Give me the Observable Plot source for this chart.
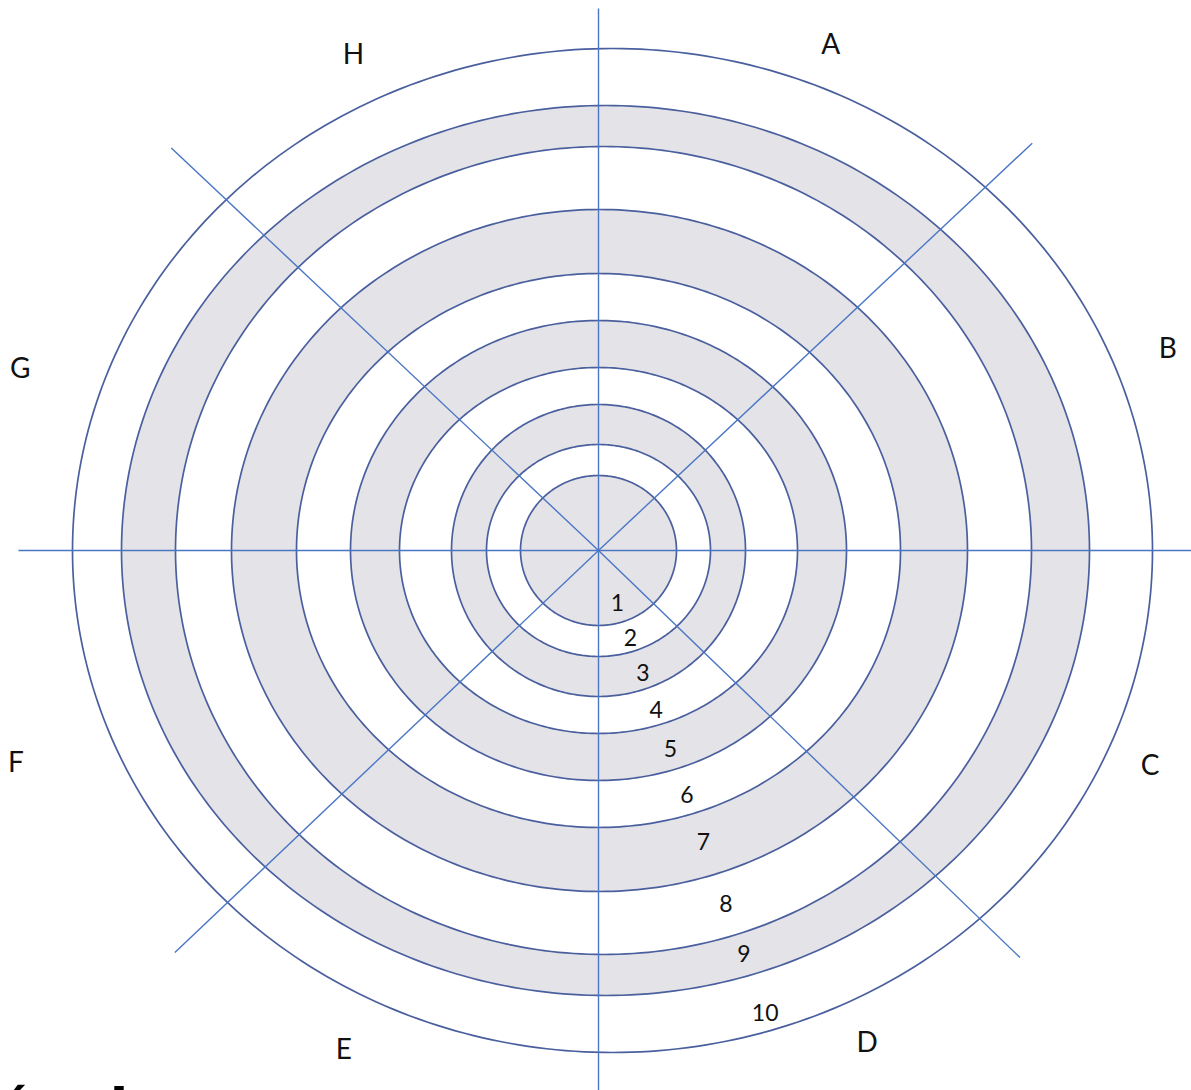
<!DOCTYPE html>
<html>
<head>
<meta charset="utf-8">
<script src="https://cdn.jsdelivr.net/npm/d3@7"></script>
<script src="https://cdn.jsdelivr.net/npm/@observablehq/plot@0.6"></script>
<style>
  html, body { margin: 0; padding: 0; background: #ffffff; overflow: hidden; }
  #wrap { position: relative; width: 1191px; height: 1090px; overflow: hidden; }
  #cut { position: absolute; left: -5px; top: 1079px; font-family: "DejaVu Sans", sans-serif; font-weight: bold; font-size: 54px; color: #000; white-space: nowrap; line-height: 60px; letter-spacing: 2px; }
</style>
</head>
<body>
<div id="wrap">
  <div id="chart"></div>
  <div id="cut">óvai</div>
</div>
<script>
// Ring numbers (1 = innermost disc)
const rings = [1, 2, 3, 4, 5, 6, 7, 8, 9, 10];
// Horizontal and vertical semi-axes of each ring's outer boundary
const ringRx = [78, 112, 147, 199, 248, 302, 368, 428, 484, 540];
const ringRy = [75, 106, 146, 183, 230, 277, 341, 404, 445, 502];
// Slight horizontal drift of each ellipse centre
const ringShift = [0, 0, 0, 0, 0, 0, 1, 5, 7, 14];
// Shaded (true) or blank (false) rings
const ringShaded = [true, false, true, false, true, false, true, false, true, false];

// Ring number labels: distance along a ray from the centre
const numberAngle = -70.2;
const numberDist = [56, 94, 131, 170, 212, 261, 310, 376, 429, 492];

// Spokes: angle (degrees) and length
const spokeAngle = [90, 43.2, 0, -44, -90, -136.5, 180, 136.7];
const spokeLength = [542, 595, 593, 586, 545, 584, 580, 587];

// Sector letters: angle (degrees) and distance from the centre
const sectors = ["A", "B", "C", "D", "E", "F", "G", "H"];
const sectorAngle = [65.3, 19.5, -21.3, -61.4, -117, -160, 162.6, 116.3];
const sectorDist = [556, 604, 592, 561, 561, 620, 606, 553];

const GREY = "#e4e3e7";
const RING_STROKE = "#4a5f9e";
const SPOKE_STROKE = "#4a76c4";
const rad = d => d * Math.PI / 180;

const marks = [];
for (let i = rings.length - 1; i >= 0; i--) {
  const pts = d3.range(0, 360, 1).map(a => ({
    x: ringShift[i] + ringRx[i] * Math.cos(rad(a)),
    y: ringRy[i] * Math.sin(rad(a))
  }));
  marks.push(Plot.line(pts, {
    x: "x", y: "y", curve: "linear-closed",
    fill: ringShaded[i] ? GREY : "#ffffff",
    stroke: RING_STROKE, strokeWidth: 1.7
  }));
}

const spokes = spokeAngle.map((a, i) => ({
  x2: spokeLength[i] * Math.cos(rad(a)),
  y2: spokeLength[i] * Math.sin(rad(a))
}));
marks.push(Plot.link(spokes, {x1: 0, y1: 0, x2: "x2", y2: "y2", stroke: SPOKE_STROKE, strokeWidth: 1.4}));

const numbers = rings.map((r, i) => ({
  label: String(r),
  x: numberDist[i] * Math.cos(rad(numberAngle)),
  y: numberDist[i] * Math.sin(rad(numberAngle))
}));
marks.push(Plot.text(numbers, {x: "x", y: "y", text: "label", fontSize: 23, fill: "#111", fontFamily: "Lato, sans-serif"}));

const letters = sectors.map((s, i) => ({
  label: s,
  x: sectorDist[i] * Math.cos(rad(sectorAngle[i])),
  y: sectorDist[i] * Math.sin(rad(sectorAngle[i]))
}));
marks.push(Plot.text(letters, {x: "x", y: "y", text: "label", fontSize: 28, fill: "#111", fontFamily: "Lato, sans-serif"}));

const chart = Plot.plot({
  width: 1191,
  height: 1090,
  margin: 0,
  x: {domain: [-598, 593], axis: null},
  y: {domain: [-540, 550], axis: null},
  style: {background: "#ffffff", overflow: "visible"},
  marks
});
document.getElementById("chart").appendChild(chart);
</script>
</body>
</html>
